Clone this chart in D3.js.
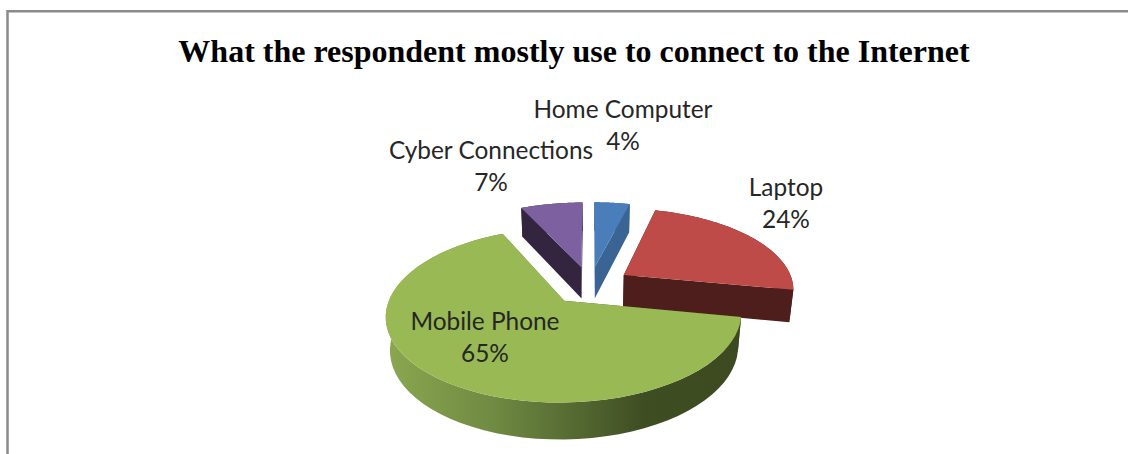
<!DOCTYPE html>
<html>
<head>
<meta charset="utf-8">
<script src="https://cdn.jsdelivr.net/npm/d3@7"></script>
<style>
html,body{margin:0;padding:0;background:#fff;overflow:hidden}
svg{display:block}
</style>
</head>
<body>
<svg id="chart" width="1128" height="454"></svg>
<script>
// Share of respondents by main device used to get online
const categories = ["Home Computer", "Laptop", "Mobile Phone", "Cyber Connections"];
const shares = [4, 24, 65, 7];
const chartTitle = "What the respondent mostly use to connect to the Internet";

const topColors = ["#4a7ebb", "#be4b48", "#98b954", "#7d60a0"];
const sideColors = ["#3a6493", "#4d1e1b", "url(#greenWall)", "#33243f"];
const labelAnchors = [[623, 118], [786, 196], [485, 330], [491, 159]];

const svg = d3.select("#chart");

// Grey frame of the chart area, cropped on the right and at the bottom
svg.append("path")
  .attr("d", "M7.5,454V11.3H1128")
  .attr("fill", "none")
  .attr("stroke", "#8a8a8a")
  .attr("stroke-width", 2.5);

svg.append("text")
  .attr("x", 574)
  .attr("y", 62)
  .attr("text-anchor", "middle")
  .attr("font-family", "'Liberation Serif', serif")
  .attr("font-weight", "bold")
  .attr("font-size", 32)
  .attr("fill", "#000")
  .text(chartTitle);

// Side wall shading: lit on the left, falling into shadow towards the right
const grad = svg.append("defs").append("linearGradient")
  .attr("id", "greenWall")
  .attr("gradientUnits", "userSpaceOnUse")
  .attr("x1", 386).attr("x2", 745).attr("y1", 0).attr("y2", 0);
[[0, "#8ba750"], [0.3, "#6f8a42"], [0.55, "#526630"], [0.72, "#3f4d22"], [1, "#3d4a21"]]
  .forEach(([o, c]) => grad.append("stop").attr("offset", o).attr("stop-color", c));

// Unit-disc coordinates mapped to the page, with perspective towards the viewer
const xScale = d3.scaleLinear().domain([0, 1]).range([590, 590 + 170]);
const yScale = d3.scaleLinear().domain([0, 1]).range([285, 285 + 80]);
const perspective = 0.16;
const taper = 0.02;
const thickness = 33;
const explode = 0.24;

function project(X, Y, Z) {
  const f = 1 / (1 - perspective * Y + taper * Z);
  return [xScale(X * f), yScale(Y * f) + thickness * Z * f];
}

const arcs = d3.pie().sort(null).value(d => d)(shares);
const line = d3.line().curve(d3.curveLinear);

function sliceGeometry(a) {
  const mid = (a.startAngle + a.endAngle) / 2;
  const ox = Math.sin(mid) * explode;
  const oy = -Math.cos(mid) * explode;
  const steps = d3.range(0, 61).map(i => a.startAngle + (a.endAngle - a.startAngle) * i / 60);
  const rim = steps.map(t => [ox + Math.sin(t), oy - Math.cos(t)]);
  const apex = [ox, oy];
  return { rim, apex };
}

// The mobile slice sits nearest the viewer, so it is painted last
const paintOrder = [0, 3, 1, 2];
paintOrder.forEach(i => {
  const { rim, apex } = sliceGeometry(arcs[i]);
  const g = svg.append("g");
  const top = rim.map(p => project(p[0], p[1], 0));
  const bottom = rim.map(p => project(p[0], p[1], 1)).reverse();
  const a0 = project(apex[0], apex[1], 0);
  const a1 = project(apex[0], apex[1], 1);
  const faces = [
    [...top, ...bottom],
    [a0, top[0], bottom[bottom.length - 1], a1],
    [a0, top[top.length - 1], bottom[0], a1]
  ];
  faces.forEach(face => {
    g.append("path").attr("d", line(face) + "Z").attr("fill", sideColors[i]);
  });
  g.append("path").attr("d", line([a0, ...top]) + "Z").attr("fill", topColors[i]);
});

// Two-line data labels: category name above its percentage
categories.forEach((name, i) => {
  const [x, y] = labelAnchors[i];
  const t = svg.append("text")
    .attr("text-anchor", "middle")
    .attr("font-family", "Lato, 'Open Sans', sans-serif")
    .attr("font-size", 24.4)
    .attr("fill", "#262626");
  t.append("tspan").attr("x", x).attr("y", y).text(name);
  t.append("tspan").attr("x", x).attr("y", y + 32).text(shares[i] + "%");
});
</script>
</body>
</html>
